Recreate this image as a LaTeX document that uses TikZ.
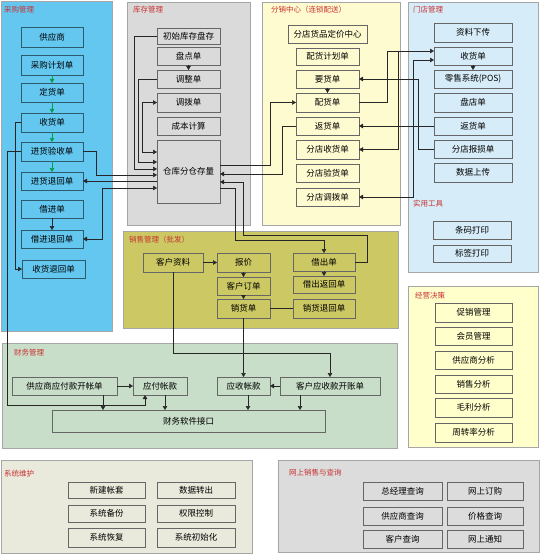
\documentclass[tikz,border=0pt]{standalone}
\usepackage{fontspec}
\newfontfamily\cjk{Noto Sans CJK SC}
\usetikzlibrary{arrows.meta}
\definecolor{cpur}{RGB}{99,199,240}
\definecolor{cinv}{RGB}{218,218,218}
\definecolor{cdis}{RGB}{255,251,208}
\definecolor{csto}{RGB}{214,236,248}
\definecolor{csal}{RGB}{204,200,100}
\definecolor{cdec}{RGB}{255,255,204}
\definecolor{cfin}{RGB}{200,222,200}
\definecolor{csys}{RGB}{234,234,220}
\definecolor{conl}{RGB}{220,220,220}
\definecolor{cttl}{RGB}{200,50,50}
\definecolor{cgrn}{RGB}{0,160,80}
\newcommand\bx[7][]{\node[box,#1,minimum width={(#5)-(#3)},minimum height={(#6)-(#4)}] (#2) at ({((#3)+(#5))/2},{((#4)+(#6))/2}) {#7};}
\newcommand\pnl[5]{\filldraw[panel,fill=#5] (#1,#2) rectangle (#3,#4);}
\begin{document}
\begin{tikzpicture}[x=1pt,y=-1pt,
  panel/.style={draw=black!35,line width=0.7pt},
  box/.style={draw=black!60,line width=0.6pt,inner sep=0pt,outer sep=0pt,font=\cjk\fontsize{8.5}{9}\selectfont},
  ttl/.style={anchor=west,text=cttl,inner sep=0pt,font=\cjk\fontsize{7.5}{9}\selectfont},
  arr/.style={line width=0.5pt,black!85,-{Triangle[length=4pt,width=4.5pt]}},
  darr/.style={line width=0.5pt,black!85,{Triangle[length=4pt,width=4.5pt]}-{Triangle[length=4pt,width=4.5pt]}},
  garr/.style={line width=0.5pt,cgrn,-{Triangle[length=4pt,width=4.5pt]}},
  ln/.style={line width=0.5pt,black!85}]
\useasboundingbox (0,0) rectangle (540,559);
\fill[white] (0,0) rectangle (540,559);
% panels
\pnl{1}{1}{112}{331}{cpur}
\pnl{127}{2}{250}{225}{cinv}
\pnl{262}{2}{400}{225}{cdis}
\pnl{408}{2}{538}{272}{csto}
\pnl{123}{231}{398}{328}{csal}
\pnl{408}{286}{538}{447}{cdec}
\pnl{2}{343}{397}{448}{cfin}
\pnl{1}{460}{252}{553}{csys}
\pnl{278}{460}{539}{552}{conl}
% titles
\node[ttl] (t1) at (4,10) {采购管理};
\node[ttl] (t2) at (133,10) {库存管理};
\node[ttl] (t3) at (271,10) {分销中心（连锁配送）};
\node[ttl] (t4) at (413,10) {门店管理};
\node[ttl] (t5) at (413,204) {实用工具};
\node[ttl] (t6) at (129,240) {销售管理（批发）};
\node[ttl] (t7) at (415,296) {经营决策};
\node[ttl] (t8) at (14,353) {财务管理};
\node[ttl] (t9) at (4,474) {系统维护};
\node[ttl] (t10) at (289,473) {网上销售与查询};
% purchase
\bx[fill=cpur,draw=black!55!cpur]{gys}{21}{27}{83}{47}{供应商}
\bx[fill=cpur,draw=black!55!cpur]{cgjh}{21}{55}{83}{75}{采购计划单}
\bx[fill=cpur,draw=black!55!cpur]{dhd}{21}{83}{83}{102}{定货单}
\bx[fill=cpur,draw=black!55!cpur]{shd}{21}{113}{83}{132}{收货单}
\bx[fill=cpur,draw=black!55!cpur]{jhys}{21}{142}{83}{161}{进货验收单}
\bx[fill=cpur,draw=black!55!cpur]{jhth}{21}{172}{83}{190}{进货退回单}
\bx[fill=cpur,draw=black!55!cpur]{jjd}{21}{200}{83}{218}{借进单}
\bx[fill=cpur,draw=black!55!cpur]{jjth}{21}{230}{83}{248}{借进退回单}
\bx[fill=cpur,draw=black!55!cpur]{shth}{22}{260}{85}{278}{收货退回单}
% inventory
\bx[fill=cinv]{cskc}{157}{28}{220}{44}{初始库存盘存}
\bx[fill=cinv]{pdd}{157}{47}{220}{65}{盘点单}
\bx[fill=cinv]{tzd}{157}{70}{220}{88}{调整单}
\bx[fill=cinv]{tbd}{157}{93}{220}{112}{调拨单}
\bx[fill=cinv]{cbjs}{157}{117}{220}{135}{成本计算}
\bx[fill=cinv]{ckcl}{157}{140}{220}{203}{仓库分仓存量}
% distribution
\bx[fill=cdis]{djzx}{288}{25}{367}{43}{分店货品定价中心}
\bx[fill=cdis]{phjh}{296}{48}{359}{65}{配货计划单}
\bx[fill=cdis]{yhd}{296}{70}{359}{88}{要货单}
\bx[fill=cdis]{phd}{296}{93}{359}{112}{配货单}
\bx[fill=cdis]{fhd}{296}{117}{359}{135}{返货单}
\bx[fill=cdis]{fdsh}{296}{140}{359}{159}{分店收货单}
\bx[fill=cdis]{fdys}{296}{164}{359}{182}{分店验货单}
\bx[fill=cdis]{fdtb}{296}{188}{359}{206}{分店调拨单}
% store
\bx[fill=csto]{zlxc}{434}{23}{512}{42}{资料下传}
\bx[fill=csto]{shd2}{434}{47}{512}{65}{收货单}
\bx[fill=csto]{lsxt}{434}{70}{512}{88}{零售系统(POS)}
\bx[fill=csto]{pdd2}{434}{93}{512}{112}{盘店单}
\bx[fill=csto]{fhd2}{434}{117}{512}{135}{返货单}
\bx[fill=csto]{bsd}{434}{140}{512}{158}{分店报损单}
\bx[fill=csto]{sjsc}{434}{163}{512}{182}{数据上传}
\bx[fill=csto]{tmdy}{433}{221}{511}{239}{条码打印}
\bx[fill=csto]{bqdy}{433}{245}{511}{262}{标签打印}
% sales
\bx[fill=csal]{khzl}{143}{253}{203}{272}{客户资料}
\bx[fill=csal]{bj}{217}{253}{270}{272}{报价}
\bx[fill=csal]{khdd}{217}{277}{270}{295}{客户订单}
\bx[fill=csal]{xhd}{217}{299}{270}{318}{销货单}
\bx[fill=csal]{jcd}{293}{253}{355}{271}{借出单}
\bx[fill=csal]{jcfh}{293}{276}{355}{293}{借出返回单}
\bx[fill=csal]{xhth}{293}{299}{355}{318}{销货退回单}
% decision
\bx[fill=cdec]{cxgl}{435}{303}{512}{322}{促销管理}
\bx[fill=cdec]{hygl}{435}{327}{512}{345}{会员管理}
\bx[fill=cdec]{gysfx}{435}{351}{512}{369}{供应商分析}
\bx[fill=cdec]{xsfx}{435}{375}{512}{393}{销售分析}
\bx[fill=cdec]{mlfx}{435}{398}{512}{417}{毛利分析}
\bx[fill=cdec]{zzlfx}{435}{423}{512}{442}{周转率分析}
% finance
\bx[fill=cfin]{gyyf}{12}{377}{117}{395}{供应商应付款开帐单}
\bx[fill=cfin]{yfzk}{133}{377}{187}{395}{应付帐款}
\bx[fill=cfin]{yszk}{217}{377}{270}{395}{应收帐款}
\bx[fill=cfin]{khys}{280}{377}{380}{395}{客户应收款开账单}
\bx[fill=cfin]{cwjk}{52}{410}{325}{432}{财务软件接口}
% system maintenance
\bx[fill=csys]{xjzt}{68}{482}{145}{498}{新建帐套}
\bx[fill=csys]{sjzc}{157}{482}{235}{498}{数据转出}
\bx[fill=csys]{xtbf}{68}{505}{145}{522}{系统备份}
\bx[fill=csys]{qxkz}{157}{505}{235}{522}{权限控制}
\bx[fill=csys]{xthf}{68}{528}{145}{547}{系统恢复}
\bx[fill=csys]{xtcsh}{157}{528}{235}{547}{系统初始化}
% online
\bx[fill=conl]{zjlcx}{363}{482}{442}{500}{总经理查询}
\bx[fill=conl]{wsdg}{447}{482}{523}{500}{网上订购}
\bx[fill=conl]{gyscx}{363}{507}{442}{525}{供应商查询}
\bx[fill=conl]{jgcx}{447}{507}{523}{525}{价格查询}
\bx[fill=conl]{khcx}{363}{530}{442}{548}{客户查询}
\bx[fill=conl]{wstz}{447}{530}{523}{548}{网上通知}
% purchase connectors
\draw[garr] (cgjh.south) -- (dhd.north);
\draw[garr] (dhd.south) -- (shd.north);
\draw[garr] (shd.south) -- (jhys.north);
\draw[garr] (jhys.south) -- (jhth.north);
\draw[arr] (jjd.south) -- (jjth.north);
\draw[arr] (shd.west) -- (15,0 |- shd.west) |- (shth.west);
\draw[arr] (jhys.west) -- (7,0 |- jhys.west) |- (145,405) -- (145,0 |- yfzk.south);
\draw[arr] (jhys.east) -- (96,0 |- jhys.east) |- (ckcl.west |- 0,175);
\draw[arr] (ckcl.west |- jhth.east) -- (jhth.east);
\draw[darr] (ckcl.west |- 0,188) -- (102,188) |- (jjth.east);
% inventory connectors
\draw[arr] (pdd.south) -- (tzd.north);
\draw[arr] (cskc.west) -- (134,0 |- cskc.west) |- (ckcl.west |- 0,169);
\draw[arr] (tzd.west) -- (138,0 |- tzd.west) |- (ckcl.west |- 0,162);
\draw[darr] (tbd.west) -- (142,0 |- tbd.west) |- (ckcl.west |- 0,152);
\draw[arr] (ckcl.east |- 0,165) -- (270,165) |- (phd.west);
\draw[arr] (fhd.west) -- (282,0 |- fhd.west) |- (ckcl.east |- 0,174);
\draw[arr] (ckcl.east |- 0,188) -- (235,188) |- (jcd.north |- 0,240) -- (jcd.north);
\draw[arr] (jcd.east) -- (367,0 |- jcd.east) -- (367,235) -- (243,235) |- (ckcl.east |- 0,182);
% distribution / store connectors
\draw[arr] (yhd.south) -- (phd.north);
\draw[arr] (shd2.south) -- (lsxt.north);
\draw[arr] (phd.east) -- (387,0 |- phd.east) |- (shd2.west |- 0,51);
\coordinate (j1) at (398,51);
\draw[arr] (j1) |- (fdsh.east);
\draw[arr] (fhd2.west) -- (fhd.east);
\draw[arr] (bsd.west) -- (418,0 |- bsd.west) |- (yhd.east);
\draw[darr] (fdtb.east) -- (413,0 |- fdtb.east) |- (shd2.west |- 0,60);
% sales connectors
\draw[arr] (khzl.east) -- (bj.west);
\draw[arr] (bj.south) -- (khdd.north);
\draw[arr] (khdd.south) -- (xhd.north);
\draw[arr] (jcd.south) -- (jcfh.north);
\draw[ln] (xhd.east) -- (xhth.west);
\draw[arr] (khzl.south) -- (khzl.south |- 0,353) -| (khys.north);
\draw[arr] (xhd.south) -- (xhd.south |- yszk.north);
% finance connectors
\draw[arr] (gyyf.east) -- (yfzk.west);
\draw[arr] (khys.west) -- (yszk.east);
\draw[arr] (103,0 |- gyyf.south) -- (103,0 |- cwjk.north);
\draw[arr] (165,0 |- yfzk.south) -- (165,0 |- cwjk.north);
\draw[arr] (248,0 |- yszk.south) -- (248,0 |- cwjk.north);
\draw[arr] (300,0 |- khys.south) -- (300,0 |- cwjk.north);
\end{tikzpicture}
\end{document}
